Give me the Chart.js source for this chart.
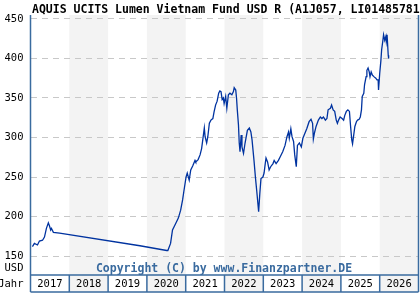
<!DOCTYPE html>
<html>
<head>
<meta charset="utf-8">
<script src="https://cdn.jsdelivr.net/npm/chart.js@4"></script>
<style>
  body { margin: 0; background: #fff; }
  canvas { display: block; }
</style>
</head>
<body>
<canvas id="chart" width="420" height="300"></canvas>
<script>
// fund price in USD, x = decimal year
const dates = [
  2017.05, 2017.10, 2017.18, 2017.23, 2017.31, 2017.36, 2017.41, 2017.46, 2017.49, 2017.52,
  2017.54, 2017.59, 2017.75, 2019.82, 2020.51, 2020.54, 2020.61, 2020.66, 2020.72, 2020.81,
  2020.87, 2020.92, 2020.95, 2021.01, 2021.04, 2021.09, 2021.13, 2021.18, 2021.24, 2021.26,
  2021.32, 2021.37, 2021.41, 2021.44, 2021.48, 2021.50, 2021.54, 2021.57, 2021.61, 2021.65,
  2021.70, 2021.73, 2021.77, 2021.81, 2021.85, 2021.88, 2021.91, 2021.94, 2021.97, 2021.99,
  2022.03, 2022.06, 2022.10, 2022.14, 2022.19, 2022.23, 2022.25, 2022.29, 2022.31, 2022.33,
  2022.36, 2022.38, 2022.40, 2022.43, 2022.45, 2022.49, 2022.53, 2022.59, 2022.64, 2022.68,
  2022.71, 2022.76, 2022.80, 2022.83, 2022.86, 2022.88, 2022.91, 2022.94, 2022.99, 2023.02,
  2023.05, 2023.07, 2023.11, 2023.15, 2023.19, 2023.25, 2023.28, 2023.33, 2023.39, 2023.43,
  2023.50, 2023.56, 2023.61, 2023.65, 2023.67, 2023.71, 2023.74, 2023.78, 2023.81, 2023.85,
  2023.88, 2023.93, 2023.98, 2024.02, 2024.07, 2024.12, 2024.18, 2024.23, 2024.27, 2024.29,
  2024.32, 2024.36, 2024.42, 2024.47, 2024.51, 2024.55, 2024.60, 2024.64, 2024.67, 2024.73,
  2024.76, 2024.80, 2024.84, 2024.88, 2024.91, 2024.94, 2024.98, 2025.03, 2025.07, 2025.10,
  2025.14, 2025.18, 2025.22, 2025.25, 2025.28, 2025.30, 2025.33, 2025.36, 2025.40, 2025.43,
  2025.47, 2025.50, 2025.53, 2025.55, 2025.59, 2025.61, 2025.65, 2025.67, 2025.70, 2025.73,
  2025.75, 2025.78, 2025.81, 2025.85, 2025.90, 2025.93, 2025.96, 2025.97, 2026.00, 2026.03,
  2026.05, 2026.08, 2026.10, 2026.13, 2026.16, 2026.17, 2026.19, 2026.22, 2026.23
];
const prices = [
  162, 166, 164, 169, 170, 174, 185, 192, 188, 183,
  185, 180, 179, 163, 157, 157, 166, 183, 189, 198,
  208, 221, 231, 250, 255, 246, 259, 264, 271, 269,
  272, 278, 286, 297, 312, 301, 293, 301, 318, 322,
  324, 332, 341, 346, 356, 359, 358, 348, 350, 343,
  352, 337, 354, 356, 354, 358, 363, 360, 350, 335,
  316, 293, 282, 303, 288, 280, 293, 309, 312, 307,
  297, 271, 248, 233, 217, 206, 229, 248, 250, 255,
  267, 274, 269, 259, 263, 267, 271, 267, 271, 275,
  282, 290, 301, 307, 299, 311, 301, 295, 278, 263,
  290, 293, 288, 299, 305, 311, 320, 323, 318, 298,
  306, 314, 322, 326, 324, 326, 322, 324, 335, 337,
  341, 335, 333, 322, 318, 322, 326, 324, 322, 328,
  333, 335, 333, 314, 297, 292, 303, 314, 320, 322,
  323, 326, 335, 352, 356, 367, 377, 385, 388, 383,
  377, 383, 379, 377, 375, 373, 373, 360, 381, 397,
  411, 422, 430, 423, 428, 422, 430, 404, 400
];
const years = ['2017', '2018', '2019', '2020', '2021', '2022', '2023', '2024', '2025', '2026'];
const yTicks = [150, 200, 250, 300, 350, 400, 450];

const title = 'AQUIS UCITS Lumen Vietnam Fund USD R (A1J057, LI0148578150)';
const frameBlue = '#3a6b9f';
const bandGray = '#f3f3f3';
const mono = '"DejaVu Sans Mono", monospace';

// gray bands behind every second year
const bandsPlugin = {
  id: 'bands',
  beforeDraw(chart) {
    const { ctx, chartArea: a, scales: { x } } = chart;
    ctx.save();
    years.forEach((y, i) => {
      if (i % 2 === 1) {
        const x0 = x.getPixelForValue(+y);
        const x1 = x.getPixelForValue(+y + 1);
        ctx.fillStyle = bandGray;
        ctx.fillRect(x0, a.top, x1 - x0, a.bottom - a.top);
      }
    });
    ctx.restore();
  }
};

// frame, year strip, title and captions
const decorPlugin = {
  id: 'decor',
  afterDraw(chart) {
    const { ctx, chartArea: a, scales: { x } } = chart;
    const stripTop = a.bottom, stripBottom = a.bottom + 17;
    ctx.save();

    // year cells
    years.forEach((y, i) => {
      const x0 = x.getPixelForValue(+y);
      const x1 = x.getPixelForValue(+y + 1);
      ctx.fillStyle = i % 2 === 1 ? bandGray : '#fff';
      ctx.fillRect(x0, stripTop, x1 - x0, stripBottom - stripTop);
      ctx.fillStyle = '#000';
      ctx.font = '10.5px ' + mono;
      ctx.textAlign = 'center';
      ctx.textBaseline = 'middle';
      ctx.fillText(y, (x0 + x1) / 2, (stripTop + stripBottom) / 2 + 1);
    });

    ctx.strokeStyle = frameBlue;
    ctx.lineWidth = 1.5;
    ctx.beginPath();
    ctx.moveTo(a.left, a.top); ctx.lineTo(a.left, stripBottom);
    ctx.moveTo(a.right, a.top); ctx.lineTo(a.right, stripBottom);
    ctx.moveTo(a.left, stripTop); ctx.lineTo(a.right, stripTop);
    ctx.moveTo(a.left, stripBottom); ctx.lineTo(a.right, stripBottom);
    years.forEach(y => {
      const px = x.getPixelForValue(+y);
      ctx.moveTo(px, stripTop); ctx.lineTo(px, stripBottom);
    });
    ctx.stroke();

    ctx.fillStyle = '#000';
    ctx.font = '10.5px ' + mono;
    ctx.textAlign = 'right';
    ctx.textBaseline = 'middle';
    ctx.fillText('USD', a.left - 7, a.bottom - 7);
    ctx.fillText('Jahr', a.left - 7, (stripTop + stripBottom) / 2 + 1);

    ctx.font = 'bold 11.5px ' + mono;
    ctx.fillStyle = frameBlue;
    ctx.textAlign = 'center';
    ctx.textBaseline = 'alphabetic';
    ctx.fillText('Copyright (C) by www.Finanzpartner.DE', 224, a.bottom - 3);

    ctx.font = 'bold 11.5px ' + mono;
    ctx.fillStyle = '#000';
    ctx.textAlign = 'left';
    ctx.fillText(title, 32, 13);
    ctx.restore();
  }
};

new Chart(document.getElementById('chart'), {
  type: 'line',
  data: {
    datasets: [{
      data: dates.map((d, i) => ({ x: d, y: prices[i] })),
      borderColor: '#0033a0',
      borderWidth: 1.3,
      pointRadius: 0,
      tension: 0,
      fill: false
    }]
  },
  options: {
    responsive: false,
    animation: false,
    layout: { padding: { top: 15, right: 1.5, bottom: 25, left: 0 } },
    plugins: { legend: { display: false }, tooltip: { enabled: false } },
    scales: {
      x: { type: 'linear', min: 2017, max: 2027, display: false },
      y: {
        min: 126, max: 455,
        afterFit(scale) { scale.width = 30.5; },
        afterBuildTicks(scale) { scale.ticks = yTicks.map(v => ({ value: v })); },
        border: { display: false, dash: [6, 5] },
        grid: { color: '#c8c8c8', lineWidth: 1, drawTicks: false },
        ticks: { color: '#000', padding: 7, font: { family: mono, size: 10.5 } }
      }
    }
  },
  plugins: [bandsPlugin, decorPlugin]
});
</script>
</body>
</html>
